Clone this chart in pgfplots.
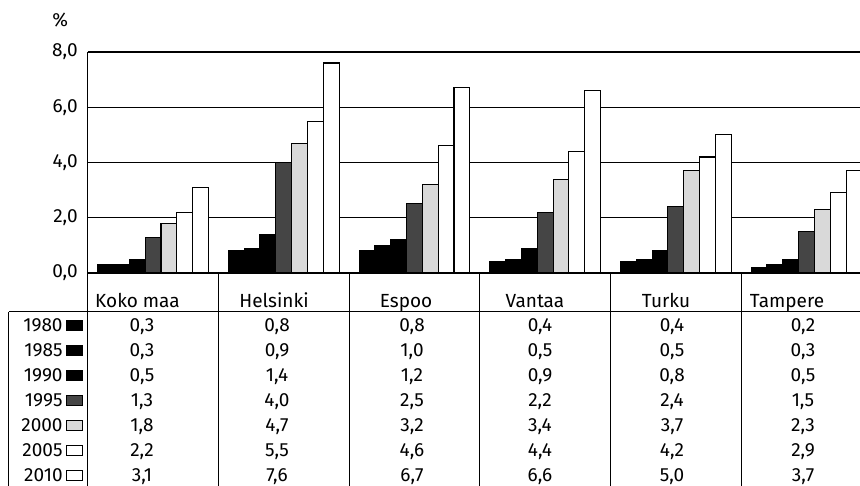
\documentclass[border=0pt]{standalone}
\usepackage{fontspec}
\setmainfont{Fira Sans}
\usepackage{pgfplots}
\pgfplotsset{compat=1.18}
\usepackage{pgfplotstable}

\definecolor{darkstip}{gray}{0.27}
\definecolor{lightstip}{gray}{0.85}

\pgfplotstableread{
x a1980 a1985 a1990 a1995 a2000 a2005 a2010
0 0.3 0.3 0.5 1.3 1.8 2.2 3.1
1 0.8 0.9 1.4 4.0 4.7 5.5 7.6
2 0.8 1.0 1.2 2.5 3.2 4.6 6.7
3 0.4 0.5 0.9 2.2 3.4 4.4 6.6
4 0.4 0.5 0.8 2.4 3.7 4.2 5.0
5 0.2 0.3 0.5 1.5 2.3 2.9 3.7
}\data

\newcommand\trow[9]{%
  \pgfmathsetmacro\yb{-(29.35+12.45*#1)}%
  \node[anchor=base east, inner sep=0pt] at (-12.35pt,\yb pt) {#2};
  \draw[line width=0.5pt,#3] (-10.35pt,\yb pt+0.5pt) rectangle (-2.85pt,\yb pt+5.5pt);
  \node[anchor=base, inner sep=0pt] at (27.15pt,\yb pt) {#4};
  \node[anchor=base, inner sep=0pt] at (94.65pt,\yb pt) {#5};
  \node[anchor=base, inner sep=0pt] at (162.15pt,\yb pt) {#6};
  \node[anchor=base, inner sep=0pt] at (226.15pt,\yb pt) {#7};
  \node[anchor=base, inner sep=0pt] at (292.15pt,\yb pt) {#8};
  \node[anchor=base, inner sep=0pt] at (357.65pt,\yb pt) {#9};
}

\begin{document}
\fontsize{9.5}{10}\selectfont
\begin{tikzpicture}
\begin{axis}[
  scale only axis, width=386.15pt, height=110.5pt,
  at={(0,0)}, anchor=south west,
  xmin=-0.5, xmax=5.409, ymin=0, ymax=8,
  axis lines*=left,
  axis line style={line width=0.75pt},
  xtick=\empty, ytick={0,2,4,6,8},
  ymajorgrids, grid style={black, line width=0.7pt},
  major tick length=0pt,
  /pgf/number format/assume math mode=true,
  yticklabel style={/pgf/number format/use comma, /pgf/number format/fixed, /pgf/number format/fixed zerofill, /pgf/number format/precision=1},
  yticklabel style={inner xsep=0pt, xshift=-4.85pt},
  ybar, bar width=0.121,
  clip mode=individual,
  every axis plot/.append style={draw=black, line width=0.55pt},
]
\addplot[fill=black, bar shift=-0.363] table[x=x,y=a1980] {\data};
\addplot[fill=black, bar shift=-0.242] table[x=x,y=a1985] {\data};
\addplot[fill=black, bar shift=-0.121] table[x=x,y=a1990] {\data};
\addplot[fill=darkstip, bar shift=0] table[x=x,y=a1995] {\data};
\addplot[fill=lightstip, bar shift=0.121] table[x=x,y=a2000] {\data};
\addplot[fill=white, bar shift=0.242] table[x=x,y=a2005] {\data};
\addplot[fill=white, bar shift=0.363] table[x=x,y=a2010] {\data};
\end{axis}
% percent sign
\node[anchor=base west, inner sep=0pt] at (-17.85pt,123pt) {\%};
% table lines
\foreach \k in {0,...,5} {
  \draw[line width=0.5pt] (\k*65.35pt,0) -- (\k*65.35pt,-110pt);
}
\draw[line width=0.5pt] (-39.35pt,-19.5pt) -- (-39.35pt,-110pt);
\draw[line width=0.5pt] (-39.35pt,-19.5pt) -- (390pt,-19.5pt);
% headers
\node[anchor=base, inner sep=0pt] at (24.9pt,-17.2pt) {Koko maa};
\node[anchor=base, inner sep=0pt] at (93.15pt,-17.2pt) {Helsinki};
\node[anchor=base, inner sep=0pt] at (159.15pt,-17.2pt) {Espoo};
\node[anchor=base, inner sep=0pt] at (223.65pt,-17.2pt) {Vantaa};
\node[anchor=base, inner sep=0pt] at (289.15pt,-17.2pt) {Turku};
\node[anchor=base, inner sep=0pt] at (349.65pt,-17.2pt) {Tampere};
% rows
\trow{0}{1980}{fill=black}{0,3}{0,8}{0,8}{0,4}{0,4}{0,2}
\trow{1}{1985}{fill=black}{0,3}{0,9}{1,0}{0,5}{0,5}{0,3}
\trow{2}{1990}{fill=black}{0,5}{1,4}{1,2}{0,9}{0,8}{0,5}
\trow{3}{1995}{fill=darkstip}{1,3}{4,0}{2,5}{2,2}{2,4}{1,5}
\trow{4}{2000}{fill=lightstip}{1,8}{4,7}{3,2}{3,4}{3,7}{2,3}
\trow{5}{2005}{fill=white}{2,2}{5,5}{4,6}{4,4}{4,2}{2,9}
\trow{6}{2010}{fill=white}{3,1}{7,6}{6,7}{6,6}{5,0}{3,7}
\pgfresetboundingbox
\useasboundingbox (-43.85pt,-106.5pt) rectangle (386.15pt,136.5pt);
\end{tikzpicture}
\end{document}
